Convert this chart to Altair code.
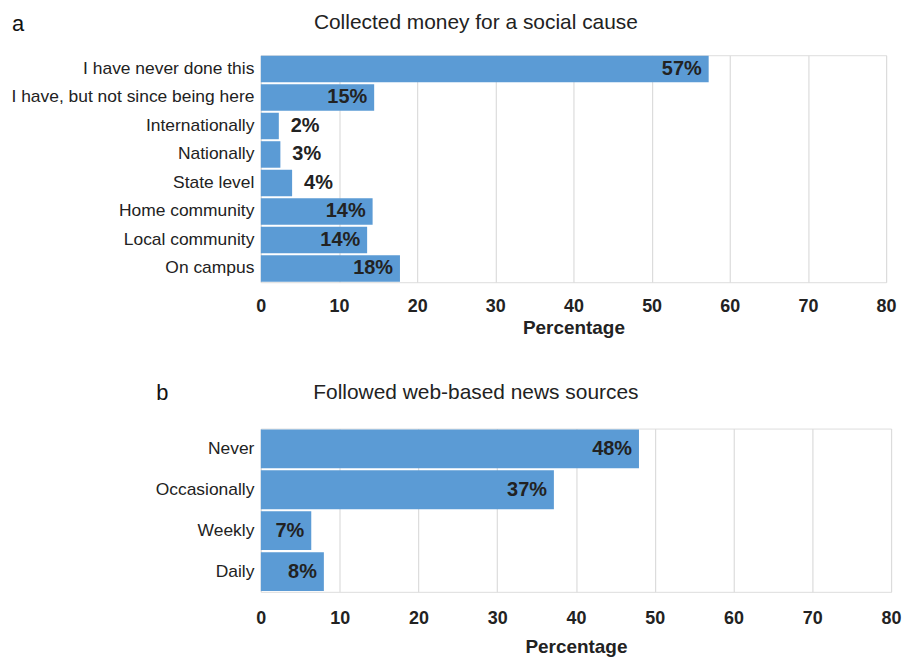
import altair as alt
import pandas as pd

FONT = "Liberation Sans"
BAR = "#5b9bd5"
INK = "#222222"

cats_a = ["I have never done this", "I have, but not since being here", "Internationally",
          "Nationally", "State level", "Home community", "Local community", "On campus"]
vals_a = [57.3, 14.5, 2.3, 2.5, 4.0, 14.3, 13.6, 17.8]
labels_a = ["57%", "15%", "2%", "3%", "4%", "14%", "14%", "18%"]

cats_b = ["Never", "Occasionally", "Weekly", "Daily"]
vals_b = [48.0, 37.2, 6.4, 8.0]
labels_b = ["48%", "37%", "7%", "8%"]

ticks = [0, 10, 20, 30, 40, 50, 60, 70, 80]


def panel(cats, vals, labels, letter, title, width, height, pad_inner,
          lab_pad, title_pad, letter_x, letter_y, title_x, title_y):
    df = pd.DataFrame({"cat": cats, "val": vals, "lab": labels})
    base = alt.Chart(df)
    yscale = alt.Scale(domain=cats, paddingInner=pad_inner, paddingOuter=0.02)
    y = alt.Y("cat:N", sort=None, title=None, scale=yscale,
              axis=alt.Axis(labelFontSize=17.5, labelColor=INK, labelPadding=7,
                            ticks=False, domain=False, labelLimit=400,
                            labelFont=FONT))
    x = alt.X("val:Q", scale=alt.Scale(domain=[0, 80], nice=False),
              axis=alt.Axis(values=ticks, title="Percentage", ticks=False,
                            domain=False, labelFontSize=18, labelFontWeight="bold",
                            labelColor=INK, labelPadding=lab_pad, labelFont=FONT,
                            labelFlush=False,
                            titleFontSize=19, titleFontWeight="bold", titleColor=INK,
                            titlePadding=title_pad, titleFont=FONT,
                            gridColor="#dcdcdc", gridWidth=1.2))
    bars = base.mark_bar(color=BAR).encode(x=x, y=y)
    ytxt = alt.Y("cat:N", sort=None, scale=yscale)
    inside = base.transform_filter("datum.val > 5").mark_text(
        align="right", baseline="middle", dx=-7, fontWeight="bold", fontSize=20,
        font=FONT, color=INK).encode(x="val:Q", y=ytxt, text="lab:N")
    outside = base.transform_filter("datum.val <= 5").mark_text(
        align="left", baseline="middle", dx=12, fontWeight="bold", fontSize=20,
        font=FONT, color=INK).encode(x="val:Q", y=ytxt, text="lab:N")
    letter_mark = alt.Chart(pd.DataFrame({"t": [letter]})).mark_text(
        align="left", baseline="alphabetic", fontSize=22, font=FONT, color="#111111"
    ).encode(text="t:N", x=alt.value(letter_x), y=alt.value(letter_y))
    title_mark = alt.Chart(pd.DataFrame({"t": [title]})).mark_text(
        align="center", baseline="alphabetic", fontSize=21, font=FONT, color=INK
    ).encode(text="t:N", x=alt.value(title_x), y=alt.value(title_y))
    return alt.layer(bars, inside, outside, letter_mark, title_mark).properties(
        width=width, height=height)


pa = panel(cats_a, vals_a, labels_a, "a", "Collected money for a social cause",
           628, 228, 0.07, 15, 4, -250, -24, 216, -26)
pb = panel(cats_b, vals_b, labels_b, "b", "Followed web-based news sources",
           633, 164, 0.05, 18, 10, -105, -29, 216, -30)

chart = alt.vconcat(pa, pb, spacing=42).properties(
    padding={"left": 10, "top": 10, "right": 2, "bottom": 0},
    background="white"
).configure_view(stroke=None).configure(font=FONT)

chart.save("out.html", embed_options={"renderer": "svg", "actions": False})
